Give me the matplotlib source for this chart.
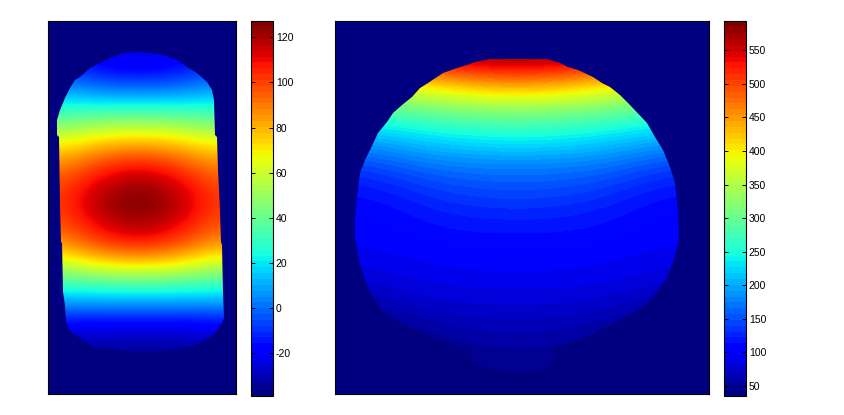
import matplotlib
matplotlib.use("Agg")
import matplotlib.pyplot as plt
import numpy as np
from matplotlib.cm import ScalarMappable
from matplotlib.colors import Normalize
from matplotlib.patches import Polygon

left_x = [58, 78, 98, 118, 138, 158, 178, 198, 218]
left_y = [45, 65, 85, 105, 125, 145, 165, 185, 205, 225, 245, 265, 285, 305, 325, 345, 365]
left_values = [
    [-22, -22, -22, -22, -22, -22, -22, -22, -22],
    [-12, -15, -20, -23, -24, -23, -20, -15, -12],
    [2, 0, -3, -5, -5, -5, -3, 0, 2],
    [22, 22, 21, 21, 21, 21, 21, 22, 22],
    [45, 47, 50, 52, 52, 52, 50, 47, 45],
    [70, 73, 78, 81, 82, 81, 78, 73, 70],
    [88, 93, 100, 105, 107, 105, 100, 93, 88],
    [100, 106, 114, 120, 122, 120, 114, 106, 100],
    [103, 110, 119, 125, 127, 125, 119, 110, 103],
    [98, 104, 112, 118, 120, 118, 112, 104, 98],
    [85, 91, 98, 103, 105, 103, 98, 91, 85],
    [58, 62, 68, 71, 72, 71, 68, 62, 58],
    [30, 31, 32, 33, 33, 33, 32, 31, 30],
    [5, 5, 5, 5, 5, 5, 5, 5, 5],
    [-20, -21, -22, -22, -22, -22, -22, -21, -20],
    [-30, -31, -33, -33, -33, -33, -33, -31, -30],
    [-37, -37, -37, -37, -37, -37, -37, -37, -37],
]
left_outline = [
    (137, 52), (123, 53), (113, 57), (102, 62), (90, 68), (80, 77), (75, 80), (70, 88),
    (65, 98), (60, 110), (57, 120), (57, 135), (59, 137), (60, 205), (61, 242), (62, 243),
    (63, 292), (65, 305), (66, 322), (68, 328), (73, 333), (80, 338), (87, 343), (93, 347),
    (130, 351), (165, 351), (190, 347), (200, 343), (210, 337), (217, 330), (222, 323),
    (224, 318), (223, 292), (222, 245), (221, 242), (220, 210), (218, 170), (217, 137),
    (215, 135), (214, 100), (212, 90), (207, 82), (197, 73), (187, 67), (177, 60),
    (163, 55), (150, 53),
]
left_ticks = [-20, 0, 20, 40, 60, 80, 100, 120]
left_range = (-39, 127)

right_x = [357, 397, 437, 477, 517, 557, 597, 637, 677]
right_y = [50, 70, 90, 110, 130, 150, 170, 190, 210, 230, 250, 270, 290, 310, 330, 350, 370, 390]
right_values = [
    [560, 560, 590, 600, 600, 600, 590, 560, 560],
    [440, 470, 505, 525, 535, 525, 505, 470, 440],
    [350, 370, 395, 415, 425, 415, 395, 370, 350],
    [285, 300, 315, 325, 330, 325, 315, 300, 285],
    [225, 235, 250, 260, 265, 260, 250, 235, 225],
    [175, 190, 205, 212, 215, 212, 205, 190, 175],
    [135, 150, 165, 170, 172, 170, 165, 150, 135],
    [115, 125, 140, 147, 150, 147, 140, 125, 115],
    [105, 112, 122, 128, 130, 128, 122, 112, 105],
    [100, 105, 112, 115, 115, 115, 112, 105, 100],
    [95, 98, 102, 105, 105, 105, 102, 98, 95],
    [86, 90, 95, 97, 97, 97, 95, 90, 86],
    [72, 80, 85, 87, 87, 87, 85, 80, 72],
    [50, 62, 72, 76, 76, 76, 72, 62, 50],
    [40, 45, 55, 62, 64, 62, 55, 45, 40],
    [37, 38, 42, 50, 52, 50, 42, 38, 37],
    [36, 36, 37, 42, 45, 42, 37, 36, 36],
    [35, 35, 35, 38, 40, 38, 35, 35, 35],
]
right_outline = [
    (490, 59), (475, 62), (467, 65), (457, 68), (443, 73), (428, 83), (420, 88), (412, 97),
    (402, 105), (393, 113), (387, 122), (378, 133), (370, 150), (365, 160), (360, 173),
    (357, 197), (355, 218), (355, 235), (357, 248), (360, 265), (365, 280), (370, 292),
    (377, 302), (383, 312), (397, 320), (410, 328), (427, 335), (443, 342), (460, 347),
    (470, 352), (475, 367), (478, 380), (490, 388), (530, 388), (543, 387), (548, 375),
    (552, 362), (557, 348), (573, 342), (590, 335), (610, 325), (630, 315), (647, 303),
    (657, 292), (667, 278), (673, 262), (677, 248), (679, 235), (678, 210), (675, 183),
    (670, 167), (663, 150), (655, 137), (647, 123), (630, 105), (620, 95), (610, 87),
    (602, 83), (593, 77), (578, 70), (568, 67), (560, 63), (547, 59),
]
right_ticks = [50, 100, 150, 200, 250, 300, 350, 400, 450, 500, 550]
right_range = (35, 593)

W, H = 844, 415


def add_axes(fig, x0, x1, y0, y1):
    return fig.add_axes([x0 / W, 1 - y1 / H, (x1 - x0) / W, (y1 - y0) / H])


def draw_panel(fig, box, cbar_box, xs, ys, values, outline, ticks, vrange, levels):
    bar_cmap = plt.get_cmap("jet", 64)
    ax = add_axes(fig, *box)
    ax.set_facecolor(bar_cmap(0))
    dx = xs[1] - xs[0]
    dy = ys[1] - ys[0]
    extent = [xs[0] - dx / 2, xs[-1] + dx / 2, ys[-1] + dy / 2, ys[0] - dy / 2]
    im = ax.imshow(np.array(values), cmap=plt.get_cmap("jet", levels), vmin=vrange[0], vmax=vrange[1],
                   extent=extent, interpolation="bicubic", interpolation_stage="data", aspect="auto")
    im.set_clip_path(Polygon(outline, closed=True, transform=ax.transData))
    ax.set_xlim(box[0], box[1])
    ax.set_ylim(box[3], box[2])
    ax.set_xticks([])
    ax.set_yticks([])

    cax = add_axes(fig, *cbar_box)
    sm = ScalarMappable(Normalize(vrange[0], vrange[1]), bar_cmap)
    cbar = fig.colorbar(sm, cax=cax, ticks=ticks)
    cbar.ax.tick_params(direction="in", left=True, right=True, length=3, width=0.7, pad=2, labelsize=7.5)
    cbar.ax.minorticks_off()
    cbar.outline.set_linewidth(0.8)
    for spine in ax.spines.values():
        spine.set_linewidth(0.8)


plt.rcParams["font.family"] = ["Liberation Sans", "DejaVu Sans"]
plt.rcParams["axes.unicode_minus"] = False

fig = plt.figure(figsize=(W / 100, H / 100), dpi=100)
draw_panel(fig, (48, 236, 21, 394), (251, 273, 21.5, 396), left_x, left_y, left_values,
           left_outline, left_ticks, left_range, 256)
draw_panel(fig, (335, 709, 21, 394), (724, 746, 21.5, 396), right_x, right_y, right_values,
           right_outline, right_ticks, right_range, 64)
fig.savefig("out.png", dpi=100)
